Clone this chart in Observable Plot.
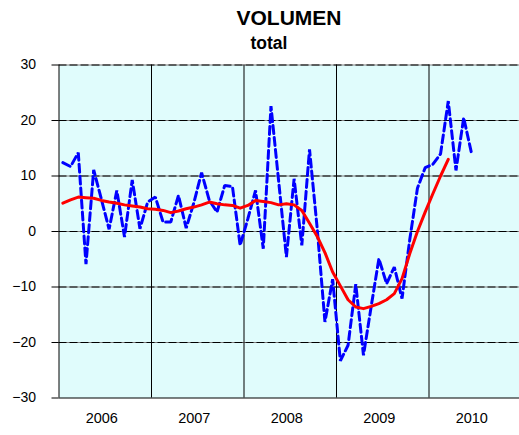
<!DOCTYPE html>
<html>
<head>
<meta charset="utf-8">
<script src="https://cdn.jsdelivr.net/npm/d3@7"></script>
<script src="https://cdn.jsdelivr.net/npm/@observablehq/plot@0.6"></script>
<style>
  html, body { margin: 0; padding: 0; background: #fff; }
  #wrap { position: relative; width: 519px; height: 435px; font-family: "Liberation Sans", Arial, sans-serif; }
  #head { position: relative; width: 519px; height: 55px; }
  .t { position: absolute; font-weight: bold; white-space: nowrap; transform: translateX(-50%); color: #000; }
  #title { left: 289px; top: 6.5px; font-size: 21px; line-height: 21px; }
  #subtitle { left: 269px; top: 35.2px; font-size: 17.5px; line-height: 17.5px; }
  svg { display: block; }
</style>
</head>
<body>
<div id="wrap">
  <div id="head">
    <div class="t" id="title">VOLUMEN</div>
    <div class="t" id="subtitle">total</div>
  </div>
  <div id="chart"></div>
</div>
<script>
const years = ["2006", "2007", "2008", "2009", "2010"];
const yTicks = [-30, -20, -10, 0, 10, 20, 30];
const gridTicks = [-20, -10, 0, 10, 20, 30];

// monthly series, Jan 2006 - Jun 2010
const volumen = [
  12.4, 11.7, 14.2, -5.9, 11.1, 5.8, 0.4, 7.4, -1.0, 9.3, 0.5, 5.3,
  6.2, 1.7, 1.7, 6.5, 0.6, 5.2, 10.6, 5.6, 3.5, 8.3, 8.1, -2.5,
  2.3, 7.4, -3.1, 22.6, 9.0, -4.6, 9.5, -2.5, 14.8, 0.5, -16.3, -8.6,
  -23.3, -20.5, -9.5, -22.3, -13.5, -4.9, -9.4, -6.4, -12.1, -1.5, 7.8, 11.5,
  12.1, 14.0, 23.5, 11.0, 20.5, 14.2
];

// trend, Jan 2006 - Mar 2010
const tendencia = [
  5.1, 5.7, 6.2, 6.1, 6.0, 5.6, 5.3, 5.1, 4.8, 4.6, 4.4, 4.1,
  4.0, 3.8, 3.4, 3.7, 4.1, 4.4, 4.8, 5.3, 5.0, 4.8, 4.7, 4.2,
  4.7, 5.6, 5.4, 5.2, 4.8, 5.0, 4.8, 3.8, 1.5, -0.9, -3.8, -7.3,
  -9.8, -12.3, -13.6, -13.9, -13.5, -13.0, -12.3, -11.2, -8.5, -4.0, 0.0, 3.5,
  6.8, 10.0, 13.0
];

const monthsPerYear = 12;
const yearBounds = years.map((_, i) => i * monthsPerYear);
const yearCenters = years.map((_, i) => i * monthsPerYear + monthsPerYear / 2);

const chart = Plot.plot({
  width: 519,
  height: 380,
  marginLeft: 58.5,
  marginRight: 0,
  marginTop: 9.5,
  marginBottom: 37.5,
  x: { domain: [0, years.length * monthsPerYear], range: [58.5, 521] },
  y: { domain: [-30, 30], range: [342.5, 9.5] },
  style: { fontFamily: "'Liberation Sans', Arial, sans-serif", fontSize: "14px", background: "#fff", color: "#000" },
  marks: [
    Plot.frame({ fill: "#e0fcfc", stroke: null }),
    Plot.ruleY(gridTicks, { stroke: "#808080", strokeWidth: 1.2 }),
    Plot.ruleY(gridTicks, { stroke: "#000", strokeWidth: 1.2, strokeDasharray: "8,3" }),
    Plot.ruleY([-30], { stroke: "#000", strokeWidth: 1.2 }),
    Plot.ruleX(yearBounds, { stroke: "#000", strokeWidth: 1 }),
    Plot.axisY({ ticks: yTicks, tickSize: 7, tickPadding: 16, fontSize: 14, label: null, stroke: "#000" }),
    Plot.axisX({ ticks: yearCenters, tickFormat: d => years[Math.round((d - 6) / 12)], tickSize: 0, tickPadding: 15, dx: -3.5, fontSize: 14.5, label: null }),
    Plot.line(volumen, { x: (d, i) => i + 0.5, y: d => d, stroke: "#0000ff", strokeWidth: 3, strokeDasharray: "8,4", strokeLinejoin: "miter" }),
    Plot.line(tendencia, { x: (d, i) => i + 0.5, y: d => d, stroke: "#ff0000", strokeWidth: 3, strokeLinejoin: "round" })
  ]
});
document.getElementById("chart").appendChild(chart);
</script>
</body>
</html>
